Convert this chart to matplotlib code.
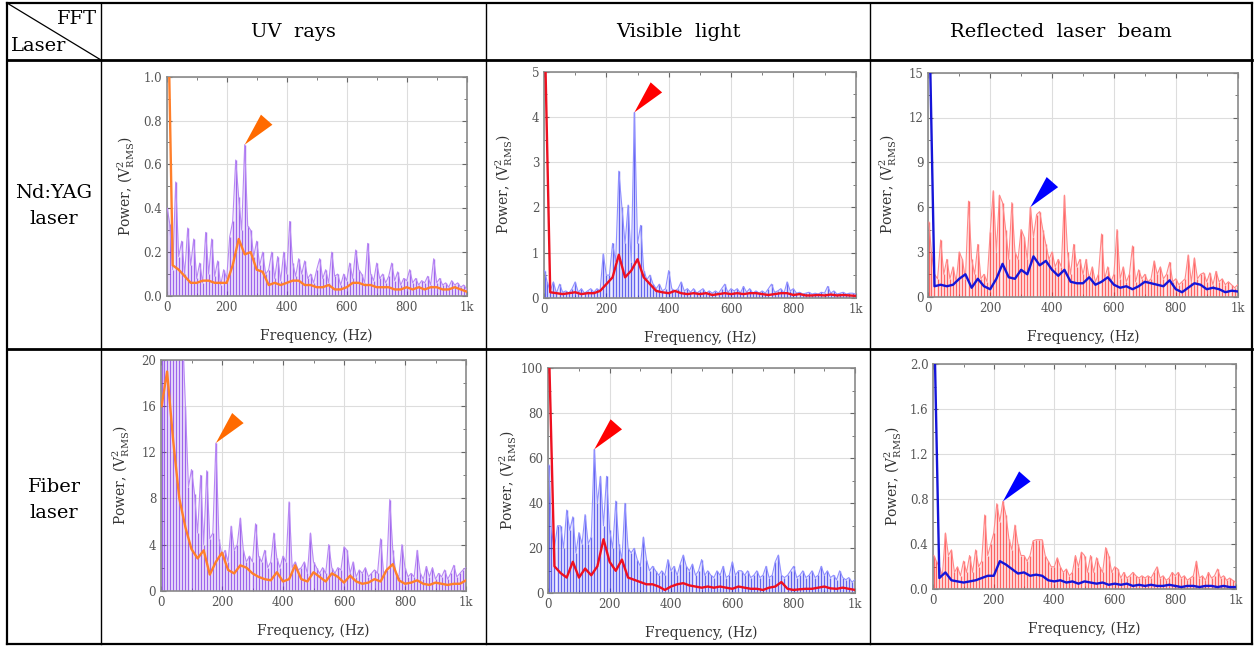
import numpy as np
import matplotlib
matplotlib.use("Agg")
import matplotlib.pyplot as plt
from matplotlib.lines import Line2D
from matplotlib.ticker import MultipleLocator, AutoMinorLocator, FuncFormatter

# ---- data ----
raw_freq = np.arange(10, 1001, 10)       # Hz, raw spectrum bins
smooth_freq = np.arange(20, 1001, 20)    # Hz, smoothed curve
dc_freq = 2                              # the DC spike at the left edge

# Nd:YAG laser - UV rays
yag_uv_raw = [0.33, 0.12, 0.52, 0.18, 0.25, 0.10, 0.31, 0.14, 0.26, 0.08,
              0.15, 0.06, 0.29, 0.10, 0.26, 0.09, 0.16, 0.05, 0.12, 0.08,
              0.27, 0.34, 0.62, 0.45, 0.30, 0.69, 0.32, 0.30, 0.18, 0.25,
              0.14, 0.20, 0.10, 0.12, 0.20, 0.08, 0.18, 0.07, 0.20, 0.10,
              0.34, 0.15, 0.09, 0.17, 0.10, 0.16, 0.08, 0.10, 0.06, 0.12,
              0.17, 0.08, 0.12, 0.06, 0.20, 0.09, 0.10, 0.05, 0.10, 0.07,
              0.15, 0.08, 0.21, 0.12, 0.10, 0.06, 0.24, 0.10, 0.07, 0.15,
              0.08, 0.10, 0.06, 0.09, 0.15, 0.07, 0.11, 0.05, 0.08, 0.07,
              0.12, 0.06, 0.08, 0.05, 0.07, 0.06, 0.09, 0.05, 0.17, 0.06,
              0.08, 0.05, 0.06, 0.04, 0.07, 0.05, 0.06, 0.04, 0.05, 0.03]
yag_uv_smooth = [0.14, 0.12, 0.09, 0.06, 0.06, 0.07, 0.07, 0.06, 0.06, 0.06,
                 0.14, 0.26, 0.19, 0.20, 0.12, 0.11, 0.05, 0.06, 0.05, 0.06,
                 0.07, 0.07, 0.05, 0.05, 0.04, 0.04, 0.05, 0.03, 0.03, 0.04,
                 0.06, 0.06, 0.05, 0.05, 0.04, 0.04, 0.04, 0.03, 0.03, 0.04,
                 0.03, 0.04, 0.03, 0.04, 0.04, 0.03, 0.03, 0.04, 0.03, 0.02]

# Nd:YAG laser - visible light
yag_vis_raw = [0.35, 0.15, 0.35, 0.10, 0.30, 0.12, 0.15, 0.10, 0.20, 0.35,
               0.12, 0.20, 0.10, 0.15, 0.20, 0.12, 0.20, 0.15, 0.97, 0.50,
               0.50, 1.20, 0.80, 2.80, 2.00, 1.20, 2.05, 0.80, 4.10, 1.20,
               1.60, 0.60, 0.40, 0.50, 0.30, 0.20, 0.30, 0.15, 0.20, 0.60,
               0.20, 0.15, 0.20, 0.35, 0.15, 0.20, 0.12, 0.20, 0.10, 0.15,
               0.20, 0.10, 0.15, 0.10, 0.15, 0.10, 0.20, 0.30, 0.12, 0.20,
               0.15, 0.20, 0.10, 0.25, 0.12, 0.20, 0.10, 0.15, 0.10, 0.15,
               0.10, 0.20, 0.30, 0.12, 0.15, 0.20, 0.10, 0.35, 0.15, 0.20,
               0.10, 0.12, 0.08, 0.10, 0.12, 0.08, 0.10, 0.08, 0.12, 0.10,
               0.25, 0.10, 0.15, 0.08, 0.10, 0.12, 0.08, 0.10, 0.10, 0.08]
yag_vis_smooth = [0.12, 0.10, 0.08, 0.10, 0.12, 0.08, 0.10, 0.10, 0.15, 0.30,
                  0.45, 0.95, 0.45, 0.60, 0.85, 0.45, 0.30, 0.15, 0.12, 0.10,
                  0.15, 0.10, 0.08, 0.10, 0.08, 0.10, 0.06, 0.08, 0.10, 0.08,
                  0.10, 0.08, 0.10, 0.10, 0.08, 0.06, 0.08, 0.10, 0.10, 0.06,
                  0.08, 0.05, 0.05, 0.06, 0.05, 0.07, 0.05, 0.06, 0.05, 0.04]

# Nd:YAG laser - reflected laser beam
yag_ref_raw = [3.0, 1.5, 1.2, 3.8, 1.5, 2.5, 1.2, 2.0, 1.0, 3.0,
               2.5, 1.2, 6.4, 2.5, 1.5, 3.5, 1.2, 1.5, 1.0, 4.3,
               7.1, 3.0, 6.8, 6.3, 4.5, 2.5, 6.3, 3.0, 2.5, 4.5,
               4.0, 2.5, 6.0, 4.0, 5.5, 5.7, 4.5, 3.5, 2.5, 3.0,
               2.0, 2.5, 2.0, 6.8, 3.0, 1.5, 3.5, 2.0, 2.5, 1.5,
               2.5, 1.2, 2.0, 1.0, 1.5, 4.2, 1.2, 2.0, 1.0, 1.5,
               4.5, 1.2, 2.0, 1.0, 1.5, 3.4, 1.0, 1.8, 1.2, 1.5,
               1.0, 1.2, 2.4, 1.5, 2.0, 1.2, 1.5, 2.3, 1.0, 1.2,
               0.8, 1.0, 1.2, 2.8, 1.0, 2.6, 1.2, 1.5, 1.6, 1.0,
               1.6, 0.8, 1.7, 1.0, 1.2, 0.8, 1.0, 0.8, 0.6, 0.8]
yag_ref_smooth = [0.7, 0.8, 0.7, 0.8, 1.2, 1.5, 0.6, 1.2, 0.7, 0.5,
                  1.2, 2.2, 1.3, 1.2, 1.8, 1.5, 2.7, 2.1, 2.4, 1.8,
                  1.4, 1.8, 1.0, 0.9, 0.9, 1.3, 0.8, 1.0, 1.3, 0.8,
                  0.6, 0.7, 0.5, 0.7, 1.0, 0.9, 0.8, 0.7, 1.1, 0.5,
                  0.3, 0.6, 0.9, 0.8, 0.5, 0.6, 0.5, 0.3, 0.4, 0.35]

# Fiber laser - UV rays
fib_uv_raw = [22, 25, 24, 23, 22, 24, 23, 16, 9.0, 10.5,
              8.4, 5.0, 10.0, 4.0, 10.4, 4.5, 5.0, 12.8, 4.5, 3.0,
              3.5, 2.5, 5.6, 3.5, 4.0, 6.3, 3.5, 2.5, 3.0, 2.5,
              5.8, 3.0, 2.5, 3.5, 2.0, 2.5, 5.0, 2.8, 2.0, 3.0,
              2.5, 7.7, 2.0, 2.5, 1.8, 2.0, 2.5, 1.5, 5.0, 2.5,
              2.0, 1.5, 2.0, 1.5, 4.0, 2.0, 1.5, 2.0, 1.8, 3.8,
              3.5, 1.5, 2.5, 1.2, 1.8, 1.5, 2.0, 1.2, 1.5, 1.8,
              1.5, 4.5, 1.5, 1.8, 7.9, 3.5, 1.5, 1.2, 4.0, 2.0,
              1.2, 1.5, 1.2, 3.5, 1.5, 1.0, 2.1, 1.2, 2.0, 1.0,
              1.5, 1.2, 1.8, 1.0, 1.5, 2.2, 1.2, 1.5, 1.8, 2.0]
fib_uv_smooth = [19, 13, 8.0, 5.5, 3.6, 2.8, 3.5, 1.4, 2.5, 3.3,
                 1.8, 1.5, 2.2, 2.0, 1.5, 1.2, 1.0, 0.9, 1.6, 0.8,
                 1.0, 2.2, 1.0, 0.8, 1.6, 1.2, 0.8, 1.5, 1.2, 0.7,
                 1.3, 0.8, 0.6, 0.7, 1.0, 0.8, 1.8, 2.3, 0.9, 0.6,
                 0.7, 0.9, 0.6, 0.5, 0.7, 0.6, 0.5, 0.6, 0.6, 0.9]

# Fiber laser - visible light
fib_vis_raw = [28, 20, 30, 30, 20, 37, 28, 34, 18, 27,
               22, 35, 22, 25, 64, 40, 52, 30, 52, 28,
               20, 41, 22, 15, 40, 20, 18, 20, 15, 12,
               25, 15, 10, 12, 10, 8, 10, 8, 15, 10,
               12, 8, 13, 17, 12, 10, 13, 8, 10, 15,
               8, 10, 8, 7, 10, 8, 12, 7, 8, 14,
               8, 10, 10, 8, 10, 7, 8, 10, 7, 8,
               12, 7, 8, 14, 17, 8, 7, 8, 10, 12,
               7, 8, 10, 7, 8, 10, 7, 8, 12, 8,
               10, 7, 8, 6, 10, 7, 6, 7, 5, 6]
fib_vis_smooth = [12, 9, 7, 14, 7, 11, 8, 12, 24, 14,
                  10, 15, 7, 6, 5, 4, 4, 3, 1.5, 3,
                  4, 4.5, 3.5, 3, 2.5, 3, 2.5, 3, 2.5, 2,
                  3, 2.5, 2, 2, 1.5, 2.5, 3, 5, 2, 1.5,
                  1.8, 2, 2, 2.5, 3, 2.2, 2, 2.5, 2, 1.5]

# Fiber laser - reflected laser beam
fib_ref_raw = [0.25, 0.20, 0.12, 0.50, 0.30, 0.35, 0.15, 0.20, 0.12, 0.25,
               0.15, 0.30, 0.15, 0.35, 0.20, 0.25, 0.66, 0.30, 0.40, 0.50,
               0.76, 0.60, 0.78, 0.66, 0.45, 0.35, 0.57, 0.40, 0.30, 0.30,
               0.25, 0.30, 0.43, 0.44, 0.44, 0.44, 0.30, 0.25, 0.20, 0.20,
               0.28, 0.20, 0.15, 0.18, 0.12, 0.15, 0.30, 0.20, 0.33, 0.30,
               0.15, 0.30, 0.15, 0.28, 0.20, 0.15, 0.37, 0.30, 0.15, 0.20,
               0.18, 0.10, 0.15, 0.10, 0.12, 0.15, 0.12, 0.10, 0.12, 0.10,
               0.12, 0.10, 0.15, 0.20, 0.10, 0.12, 0.08, 0.10, 0.15, 0.12,
               0.15, 0.10, 0.12, 0.08, 0.10, 0.12, 0.25, 0.10, 0.12, 0.08,
               0.15, 0.10, 0.12, 0.18, 0.10, 0.12, 0.08, 0.10, 0.08, 0.06]
fib_ref_smooth = [0.10, 0.15, 0.08, 0.07, 0.06, 0.07, 0.08, 0.10, 0.12, 0.12,
                  0.25, 0.22, 0.18, 0.14, 0.15, 0.12, 0.13, 0.12, 0.08, 0.07,
                  0.08, 0.06, 0.07, 0.05, 0.07, 0.06, 0.05, 0.06, 0.04, 0.05,
                  0.04, 0.05, 0.03, 0.04, 0.03, 0.04, 0.03, 0.03, 0.04, 0.03,
                  0.02, 0.03, 0.03, 0.02, 0.03, 0.03, 0.02, 0.03, 0.02, 0.02]

# value of the DC spike (raw, smooth) for each panel
dc_values = {"yag_uv": (0.40, 1.5), "yag_vis": (0.6, 6.0), "yag_ref": (5.0, 20.0),
             "fib_uv": (25.0, 16.0), "fib_vis": (57.0, 110.0), "fib_ref": (0.3, 2.5)}

# frequency of the marked peak
peak_hz = {"yag_uv": 260, "yag_vis": 290, "yag_ref": 330,
           "fib_uv": 180, "fib_vis": 150, "fib_ref": 230}

col_labels = ["UV  rays", "Visible  light", "Reflected  laser  beam"]
row_labels = [("Nd:YAG", "laser"), ("Fiber", "laser")]
x_ticks = [0, 200, 400, 600, 800, 1000]
x_tick_labels = ["0", "200", "400", "600", "800", "1k"]

W, H = 1255, 646
plt.rcParams["font.family"] = ["DejaVu Serif"]
plt.rcParams["mathtext.fontset"] = "dejavuserif"

fig = plt.figure(figsize=(W / 100, H / 100), dpi=100)


def fx(x):
    return x / W


def fy(y):
    return 1 - y / H


def hline(y, x0, x1, lw):
    fig.add_artist(Line2D([fx(x0), fx(x1)], [fy(y), fy(y)], color="black", lw=lw))


def vline(x, y0, y1, lw):
    fig.add_artist(Line2D([fx(x), fx(x)], [fy(y0), fy(y1)], color="black", lw=lw))


# ---- table frame ----
L, R, T, B = 7, 1252, 3, 644
cols = [101, 486, 870]
hline(T, L, R, 1.6)
hline(B, L, R, 1.6)
hline(60, L, R, 2.0)
hline(349, L, R, 2.0)
vline(L, T, B, 1.6)
vline(R, T, B, 1.6)
for cx in cols:
    vline(cx, T, B, 1.0)
fig.add_artist(Line2D([fx(L), fx(cols[0])], [fy(T), fy(60)], color="black", lw=0.9))
fig.text(fx(97), fy(19), "FFT", ha="right", va="center", fontsize=14)
fig.text(fx(11), fy(46), "Laser", ha="left", va="center", fontsize=14)

col_centers = [(cols[0] + cols[1]) / 2, (cols[1] + cols[2]) / 2, (cols[2] + R) / 2]
for cx, lab in zip(col_centers, col_labels):
    fig.text(fx(cx), fy(32), lab, ha="center", va="center", fontsize=14)
for (l1, l2), yc in zip(row_labels, [206, 500]):
    fig.text(fx(54), fy(yc - 13), l1, ha="center", va="center", fontsize=14)
    fig.text(fx(54), fy(yc + 13), l2, ha="center", va="center", fontsize=14)

# ---- panels ----
# (key, raw, smooth, ymax, ystep, raw colour, raw light colour, smooth colour, arrow colour, box px)
purple, purple_l = "#7a2ae6", "#b888f4"
blue, blue_l = "#2a2ae8", "#9090ff"
red, red_l = "#ff2a2a", "#ff8888"
panels = [
    ("yag_uv", yag_uv_raw, yag_uv_smooth, 1.0, 0.2, purple, purple_l, "#ff7f2a", "#ff6a00", (166.7, 76.7, 466.7, 296.0)),
    ("yag_vis", yag_vis_raw, yag_vis_smooth, 5, 1, blue, blue_l, "#ee1020", "#ff0000", (544.0, 71.7, 855.7, 297.7)),
    ("yag_ref", yag_ref_raw, yag_ref_smooth, 15, 3, red, red_l, "#1515d8", "#0000ff", (928.3, 72.7, 1237.7, 296.7)),
    ("fib_uv", fib_uv_raw, fib_uv_smooth, 20, 4, purple, purple_l, "#ff7f2a", "#ff6a00", (161.0, 360.0, 466.0, 590.7)),
    ("fib_vis", fib_vis_raw, fib_vis_smooth, 100, 20, blue, blue_l, "#ee1020", "#ff0000", (548.3, 368.3, 855.0, 593.3)),
    ("fib_ref", fib_ref_raw, fib_ref_smooth, 2.0, 0.4, red, red_l, "#1515d8", "#0000ff", (933.3, 364.0, 1235.7, 589.3)),
]

for key, raw, smooth, ymax, ystep, rc, rcl, sc, ac, (x0, y0, x1, y1) in panels:
    ax = fig.add_axes([fx(x0), fy(y1), fx(x1) - fx(x0), (y1 - y0) / H])
    raw_dc, smooth_dc = dc_values[key]
    rf = np.r_[dc_freq, raw_freq]
    rv = np.r_[raw_dc, raw]
    sf = np.r_[dc_freq, smooth_freq]
    sv = np.r_[smooth_dc, smooth]

    # raw spectrum: faint haze, dense stems and the trace itself
    ax.fill_between(rf, 0, rv, color=rcl, alpha=0.15, lw=0, zorder=1)
    ax.vlines(rf, 0, rv, color=rc, lw=1.0, alpha=0.7, zorder=2)
    ax.plot(rf, rv, color=rcl, lw=0.8, zorder=3)
    ax.plot(sf, sv, color=sc, lw=1.7, zorder=4)

    pf = peak_hz[key]
    pv = rv[list(rf).index(pf)]
    ax.annotate("", xy=(pf, pv), xytext=(22, 25), textcoords="offset pixels",
                arrowprops=dict(arrowstyle="wedge,tail_width=1.1,shrink_factor=0.5",
                                fc=ac, ec="none", shrinkA=0, shrinkB=0), zorder=5)

    ax.set_xlim(0, 1000)
    ax.set_ylim(0, ymax)
    ax.set_xticks(x_ticks)
    ax.set_xticklabels(x_tick_labels)
    ax.yaxis.set_major_locator(MultipleLocator(ystep))
    if ystep < 1:
        ax.yaxis.set_major_formatter(FuncFormatter(lambda v, p: f"{v:.1f}"))
    else:
        ax.yaxis.set_major_formatter(FuncFormatter(lambda v, p: f"{v:.0f}"))
    ax.xaxis.set_minor_locator(AutoMinorLocator(2))
    ax.yaxis.set_minor_locator(AutoMinorLocator(2))
    ax.grid(True, which="major", color="#dddddd", lw=0.8)
    ax.tick_params(which="both", direction="in", top=True, right=True,
                   color="#666666", labelcolor="#555555", labelsize=8.5)
    ax.tick_params(which="major", length=3.5)
    ax.tick_params(which="minor", length=2)
    for s in ax.spines.values():
        s.set_color("#8a8a8a")
        s.set_linewidth(1.2)

    ax.text(0.5, -40 / (y1 - y0), "Frequency, (Hz)", transform=ax.transAxes,
            ha="center", va="center", fontsize=10, color="#333333")
    ax.text(-40 / (x1 - x0), 0.5, r"Power, (V$^{2}_{\mathrm{RMS}}$)", transform=ax.transAxes,
            ha="center", va="center", rotation=90, fontsize=10, color="#333333")

fig.savefig("out.png", dpi=100)
